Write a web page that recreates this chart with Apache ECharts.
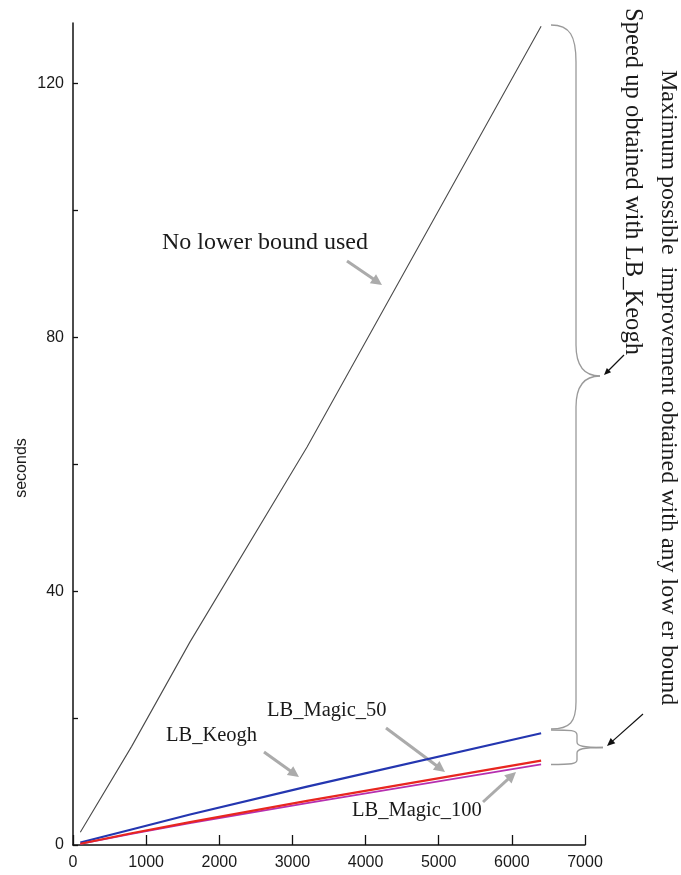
<!DOCTYPE html>
<html>
<head>
<meta charset="utf-8">
<script src="https://cdn.jsdelivr.net/npm/echarts@6/dist/echarts.min.js"></script>
<style>
html,body{margin:0;padding:0;background:#fff;}
#chart{width:681px;height:875px;}
</style>
</head>
<body>
<div id="chart"></div>
<script>
// ---- data ----
var lengths   = [100, 800, 1600, 3200, 6400];
var noLB      = [2.0, 15.5, 32.0, 62.7, 129.0];
var lbKeogh   = [0.4, 2.45, 4.8, 9.2, 17.6];
var lbMagic50 = [0.2, 1.85, 3.6, 6.95, 13.3];
var lbMagic100= [0.15, 1.75, 3.45, 6.6, 12.7];
var xTicks = [0,1000,2000,3000,4000,5000,6000,7000];
var yTicks = [0,20,40,60,80,100,120];
var yLabels = [0,40,80,120];

function pairs(xs, ys){ return xs.map(function(x,i){ return [x, ys[i]]; }); }

var SERIF = '"Liberation Serif","Times New Roman",serif';
var SANS = '"Liberation Sans",Arial,sans-serif';

function arrow(x1,y1,x2,y2,color,w,hl,hw){
  var dx=x2-x1, dy=y2-y1, L=Math.sqrt(dx*dx+dy*dy), ux=dx/L, uy=dy/L;
  var bx=x2-ux*hl, by=y2-uy*hl;
  return [
    {type:'line', silent:true, shape:{x1:x1,y1:y1,x2:bx+ux*1,y2:by+uy*1}, style:{stroke:color,lineWidth:w}},
    {type:'polygon', silent:true, shape:{points:[[x2,y2],[bx-uy*hw,by+ux*hw],[bx+uy*hw,by-ux*hw]]}, style:{fill:color}}
  ];
}
function label(txt,x,y,size){
  return {type:'text', silent:true, x:x, y:y, style:{text:txt, font:size+'px '+SERIF, fill:'#1a1a1a', textAlign:'left', textVerticalAlign:'middle'}};
}
function vlabel(txt,x,y,size){
  return {type:'text', silent:true, x:x, y:y, rotation:-Math.PI/2, style:{text:txt, font:size+'px '+SERIF, fill:'#1a1a1a', textAlign:'left', textVerticalAlign:'middle'}};
}
var BR = {stroke:'#9a9a9a', lineWidth:1.3, fill:null};
function bez(x1,y1,c1x,c1y,c2x,c2y,x2,y2){
  return {type:'bezierCurve', silent:true, shape:{x1:x1,y1:y1,cpx1:c1x,cpy1:c1y,cpx2:c2x,cpy2:c2y,x2:x2,y2:y2}, style:BR};
}
function seg(x1,y1,x2,y2){
  return {type:'line', silent:true, shape:{x1:x1,y1:y1,x2:x2,y2:y2}, style:BR};
}

var graphics = [];
graphics.push(label('No lower bound used',162,243,24));
graphics.push(label('LB_Keogh',166,736,20.5));
graphics.push(label('LB_Magic_50',267,711,20.5));
graphics.push(label('LB_Magic_100',352,811,20.5));
graphics = graphics.concat(arrow(347,261,382,285,'#ababab',3,11,5.5));
graphics = graphics.concat(arrow(264,752,299,777,'#ababab',3,11,5.5));
graphics = graphics.concat(arrow(386,728,445,772,'#ababab',3,11,5.5));
graphics = graphics.concat(arrow(483,802,516,772,'#ababab',3,11,5.5));
// big brace
graphics.push(bez(551,25, 570,25, 576,36, 576,62));
graphics.push(seg(576,62,576,345));
graphics.push(bez(576,345, 576,368, 586,376, 600,376));
graphics.push(bez(600,376, 586,376, 576,384, 576,407));
graphics.push(seg(576,407,576,702));
graphics.push(bez(576,702, 576,722, 570,729, 551,729));
// small brace
graphics.push(bez(551,730, 571,730, 577,730, 577,735));
graphics.push(seg(577,735,577,742));
graphics.push(bez(577,742, 577,746, 583,747.5, 603,747.5));
graphics.push(bez(603,747.5, 583,747.5, 577,749, 577,753));
graphics.push(seg(577,753,577,760));
graphics.push(bez(577,760, 577,764, 571,764.5, 551,764.5));
// black pointer arrows
graphics = graphics.concat(arrow(624,355,604,375,'#111',1.2,7,3));
graphics = graphics.concat(arrow(643,714,607,746,'#111',1.2,8,3.5));
// rotated annotations
graphics.push(vlabel('Speed up obtained with LB_Keogh',632,8,24.6));
graphics.push(vlabel('Maximum possible  improvement obtained with any low er bound',668,70,24));
// y axis title
graphics.push({type:'text', silent:true, x:22, y:468, rotation:Math.PI/2, style:{text:'seconds', font:'16px '+SANS, fill:'#1a1a1a', textAlign:'center', textVerticalAlign:'middle'}});

var chart = echarts.init(document.getElementById('chart'), null, {renderer:'canvas'});
chart.setOption({
  backgroundColor:'#fff',
  animation:false,
  grid:{left:73,right:96,top:23,bottom:30,containLabel:false,outerBoundsMode:'none'},
  xAxis:{
    type:'value', min:0, max:7000, interval:1000,
    axisLine:{lineStyle:{color:'#111',width:1.5}},
    axisTick:{inside:true,length:10,lineStyle:{color:'#111',width:1.3}},
    axisLabel:{color:'#1a1a1a',fontSize:16,fontFamily:SANS,margin:10,showMaxLabel:true,showMinLabel:true,
      formatter:function(v){ return String(v); }},
    splitLine:{show:false}
  },
  yAxis:{
    type:'value', min:0, max:129.5,
    axisLine:{show:true,lineStyle:{color:'#111',width:1.5}},
    axisTick:{show:true,inside:true,length:5,customValues:yTicks,lineStyle:{color:'#111',width:1.3}},
    axisLabel:{color:'#1a1a1a',fontSize:16,fontFamily:SANS,margin:9,customValues:yLabels,
      formatter:function(v){ return String(v); }},
    splitLine:{show:false}
  },
  series:[
    {name:'No lower bound used',type:'line',data:pairs(lengths,noLB),symbol:'none',lineStyle:{color:'#4a4a4a',width:1.1}},
    {name:'LB_Keogh',type:'line',data:pairs(lengths,lbKeogh),symbol:'none',lineStyle:{color:'#2436b0',width:2.2}},
    {name:'LB_Magic_100',type:'line',data:pairs(lengths,lbMagic100),symbol:'none',lineStyle:{color:'#b62fb0',width:1.6}},
    {name:'LB_Magic_50',type:'line',data:pairs(lengths,lbMagic50),symbol:'none',lineStyle:{color:'#e8261f',width:2.2}}
  ],
  graphic:graphics
});
</script>
</body>
</html>
